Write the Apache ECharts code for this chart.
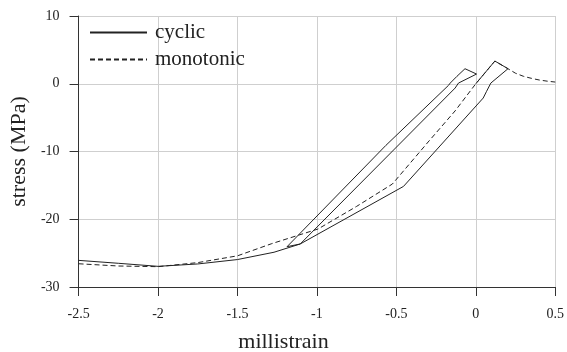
<!DOCTYPE html>
<html>
<head>
<meta charset="utf-8">
<script src="https://cdn.jsdelivr.net/npm/echarts@6/dist/echarts.min.js"></script>
<style>
  html, body { margin: 0; padding: 0; background: #fff; }
  #chart { width: 567px; height: 352px; }
</style>
</head>
<body>
<div id="chart"></div>
<script>
// Cyclic test: strain (millistrain) and stress (MPa), in loading order
const cyclicStrain = [-2.5, -2.25, -2.0, -1.75, -1.5, -1.27, -1.105, -0.130, -0.109, 0.0046, -0.068, -0.119, -0.161, -0.172, -0.566, -1.188, -1.105, -0.455, 0.0466, 0.0678, 0.0946, 0.2026, 0.12, 0.0];
const cyclicStress = [-26.07, -26.5, -26.95, -26.6, -25.95, -24.87, -23.65, -0.63, 0.10, 1.43, 2.22, 1.09, 0.10, -0.24, -9.1, -24.05, -23.65, -15.15, -2.11, -1.12, 0.10, 2.22, 3.35, 0.0];

// Monotonic test envelope
const monoStrain = [-2.5, -2.25, -2.0, -1.75, -1.5, -1.284, -0.993, -0.75, -0.525, -0.3, -0.13, 0.0, 0.12, 0.2026, 0.25, 0.3, 0.35, 0.4, 0.45, 0.5];
const monoStress = [-26.57, -26.9, -27.0, -26.4, -25.4, -23.6, -21.44, -18.1, -14.8, -8.6, -4.0, 0.0, 3.35, 2.22, 1.55, 1.1, 0.8, 0.55, 0.38, 0.25];

const seriesNames = ['cyclic', 'monotonic'];
const xTicks = { min: -2.5, max: 0.5, step: 0.5 };
const yTicks = { min: -30, max: 10, step: 10 };

const zip = (xs, ys) => xs.map((x, i) => [x, ys[i]]);

const serif = 'Liberation Serif';
const ink = '#222';

const chart = echarts.init(document.getElementById('chart'), null, { renderer: 'canvas' });
chart.setOption({
  animation: false,
  backgroundColor: '#fff',
  grid: { left: 75, right: 11, top: 16, bottom: 65, containLabel: false },
  title: {
    text: 'millistrain',
    left: 'center',
    top: 331,
    padding: 0,
    textStyle: { fontFamily: serif, fontSize: 22, fontWeight: 'normal', color: ink }
  },
  legend: {
    data: seriesNames,
    orient: 'vertical',
    left: 84,
    top: 17,
    itemWidth: 57,
    itemHeight: 14,
    itemGap: 6,
    itemStyle: { opacity: 0 },
    textStyle: { fontFamily: serif, fontSize: 21, color: ink, padding: [0, 0, 0, 3] }
  },
  xAxis: {
    type: 'value',
    min: xTicks.min,
    max: xTicks.max,
    interval: xTicks.step,
    axisLine: { onZero: false, lineStyle: { color: '#333', width: 1 } },
    axisTick: { show: true, inside: false, length: 9, lineStyle: { color: '#333' } },
    axisLabel: { margin: 20, fontFamily: serif, fontSize: 14, color: ink },
    splitLine: { show: true, lineStyle: { color: '#cfcfcf', width: 1 } }
  },
  yAxis: {
    type: 'value',
    min: yTicks.min,
    max: yTicks.max,
    interval: yTicks.step,
    name: 'stress (MPa)',
    nameLocation: 'middle',
    nameGap: 47,
    nameTextStyle: { fontFamily: serif, fontSize: 22, color: ink },
    axisLine: { show: true, onZero: false, lineStyle: { color: '#333', width: 1 } },
    axisTick: { show: true, inside: false, length: 9, lineStyle: { color: '#333' } },
    axisLabel: { margin: 19, fontFamily: serif, fontSize: 14, color: ink },
    splitLine: { show: true, lineStyle: { color: '#cfcfcf', width: 1 } }
  },
  series: [
    {
      name: seriesNames[1],
      type: 'line',
      data: zip(monoStrain, monoStress),
      symbol: 'none',
      z: 2,
      lineStyle: { color: ink, width: 1, type: [5, 3] },
      itemStyle: { color: ink }
    },
    {
      name: seriesNames[0],
      type: 'line',
      data: zip(cyclicStrain, cyclicStress),
      symbol: 'none',
      z: 3,
      lineStyle: { color: ink, width: 1, type: 'solid' },
      itemStyle: { color: ink }
    }
  ]
});
</script>
</body>
</html>
